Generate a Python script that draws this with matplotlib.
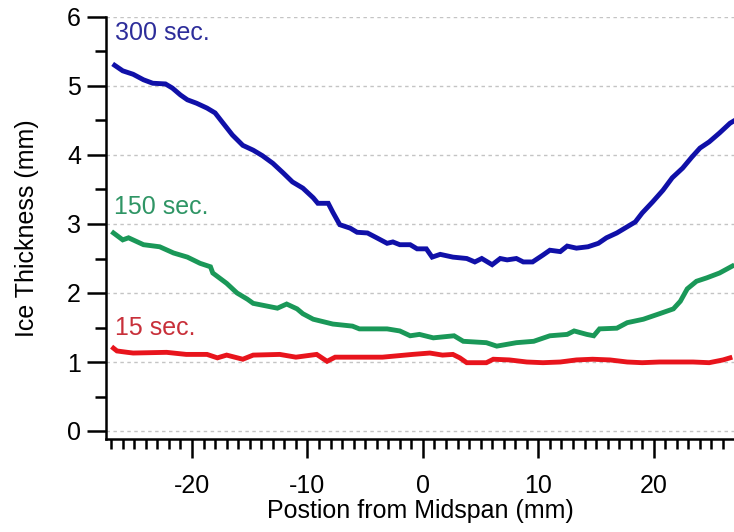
import matplotlib
matplotlib.use("Agg")
import matplotlib.pyplot as plt
from matplotlib.ticker import MultipleLocator

plt.rcParams['font.family'] = ['Liberation Sans', 'DejaVu Sans']
plt.rcParams['axes.unicode_minus'] = False

# ---- data ----
x_300 = [-26.7, -26.0, -25.1, -24.2, -23.4, -22.3, -21.7, -21.0, -20.4, -19.6, -18.7, -18.0,
         -17.3, -16.5, -15.6, -14.7, -13.9, -13.0, -12.1, -11.3, -10.4, -9.5, -9.1, -8.2,
         -7.8, -7.2, -6.3, -5.7, -4.8, -4.0, -3.1, -2.6, -2.0, -1.1, -0.5, 0.3, 0.8, 1.5,
         2.6, 3.8, 4.5, 5.1, 6.0, 6.7, 7.3, 8.1, 8.7, 9.5, 10.4, 11.0, 11.9, 12.5, 13.3,
         14.3, 15.2, 15.9, 16.8, 17.5, 18.4, 19.0, 19.9, 20.8, 21.6, 22.5, 23.3, 24.0,
         24.8, 25.7, 26.6, 26.9]
y_300 = [5.30, 5.22, 5.17, 5.09, 5.04, 5.03, 4.97, 4.87, 4.80, 4.75, 4.68, 4.61,
         4.46, 4.29, 4.14, 4.07, 3.99, 3.88, 3.74, 3.61, 3.52, 3.38, 3.30, 3.30,
         3.17, 2.99, 2.94, 2.88, 2.87, 2.80, 2.72, 2.74, 2.70, 2.70, 2.64, 2.64, 2.52, 2.56,
         2.52, 2.50, 2.45, 2.50, 2.41, 2.50, 2.48, 2.50, 2.45, 2.45, 2.55, 2.62, 2.60, 2.68, 2.65,
         2.67, 2.72, 2.80, 2.87, 2.94, 3.03, 3.16, 3.32, 3.49, 3.67, 3.81, 3.97, 4.10,
         4.19, 4.32, 4.46, 4.49]

x_150 = [-26.8, -26.0, -25.5, -24.2, -22.8, -21.6, -20.4, -19.3, -18.4, -18.2, -17.0, -16.1,
         -15.2, -14.7, -13.5, -12.6, -11.8, -10.9, -10.4, -9.5, -7.8, -6.1, -5.5, -4.8,
         -3.1, -2.0, -1.1, -0.3, 0.9, 2.7, 3.5, 5.5, 6.4, 8.1, 9.6, 11.0, 12.5, 13.1, 14.2,
         14.8, 15.3, 16.8, 17.7, 19.1, 20.5, 21.7, 22.3, 22.9, 23.7, 24.6, 25.7, 26.8]
y_150 = [2.87, 2.77, 2.80, 2.70, 2.67, 2.58, 2.52, 2.43, 2.38, 2.29, 2.14, 2.00,
         1.91, 1.85, 1.81, 1.78, 1.84, 1.77, 1.70, 1.62, 1.55, 1.52, 1.48, 1.48,
         1.48, 1.45, 1.38, 1.40, 1.35, 1.38, 1.30, 1.28, 1.23, 1.28, 1.30, 1.38, 1.40, 1.45, 1.40,
         1.38, 1.48, 1.49, 1.57, 1.62, 1.70, 1.77, 1.88, 2.06, 2.17, 2.22, 2.29, 2.39]

x_15 = [-26.8, -26.5, -25.6, -25.1, -22.2, -20.5, -18.7, -17.8, -17.0, -15.6, -14.7, -12.4,
        -11.0, -9.2, -8.3, -7.6, -6.3, -3.5, -0.9, 0.6, 1.7, 2.6, 3.2, 3.8, 5.5, 6.1,
        7.5, 9.0, 10.4, 11.9, 13.3, 14.7, 16.2, 17.7, 19.0, 20.5, 22.0, 23.4, 24.8, 26.0, 26.6]
y_15 = [1.20, 1.16, 1.14, 1.13, 1.14, 1.11, 1.11, 1.06, 1.10, 1.04, 1.10, 1.11,
        1.07, 1.11, 1.01, 1.07, 1.07, 1.07, 1.11, 1.13, 1.10, 1.11, 1.06, 0.99, 0.99, 1.04,
        1.03, 1.00, 0.99, 1.00, 1.03, 1.04, 1.03, 1.00, 0.99, 1.00, 1.00, 1.00, 0.99, 1.03, 1.06]

series = [
    ("300 sec.", x_300, y_300, "#1010a8", "#2d2d9a", (-26.7, 5.77)),
    ("150 sec.", x_150, y_150, "#1a9858", "#2f9565", (-26.8, 3.25)),
    ("15 sec.", x_15, y_15, "#e8141c", "#c8303a", (-26.7, 1.49)),
]

FS = 18

fig = plt.figure(figsize=(7.34, 5.32), dpi=100)
ax = fig.add_axes([106 / 734, (532 - 439) / 532, 628 / 734, (439 - 17) / 532])

for label, xs, ys, lc, tc, (tx, ty) in series:
    ax.plot(xs, ys, color=lc, lw=3.5, solid_joinstyle='miter')
    ax.text(tx, ty, label, color=tc, fontsize=FS, va='center', ha='left')

ax.set_xlim(-27.45, 26.95)
ax.set_ylim(-8 / 69, 6)

ax.set_yticks([0, 1, 2, 3, 4, 5, 6])
ax.yaxis.set_minor_locator(MultipleLocator(0.5))
ax.set_xticks([-20, -10, 0, 10, 20])
ax.xaxis.set_minor_locator(MultipleLocator(1))

for v in range(0, 7):
    ax.axhline(v, color='#c4c4c4', lw=1.0, ls=(0, (2.5, 2.5)), zorder=0)

for s in ['top', 'right']:
    ax.spines[s].set_visible(False)
for s in ['left', 'bottom']:
    ax.spines[s].set_linewidth(1.8)
    ax.spines[s].set_color('black')

ax.tick_params(axis='y', which='major', direction='out', length=14, width=1.8, pad=4, labelsize=FS)
ax.tick_params(axis='y', which='minor', direction='out', length=8, width=1.8)
ax.tick_params(axis='x', which='major', direction='out', length=14, width=1.8, pad=11, labelsize=FS)
ax.tick_params(axis='x', which='minor', direction='out', length=7, width=1.8)

ax.set_xlabel("Postion from Midspan (mm)", fontsize=FS, labelpad=1)
ax.set_ylabel("Ice Thickness (mm)", fontsize=FS, labelpad=20)

fig.savefig("out.png", dpi=100)
